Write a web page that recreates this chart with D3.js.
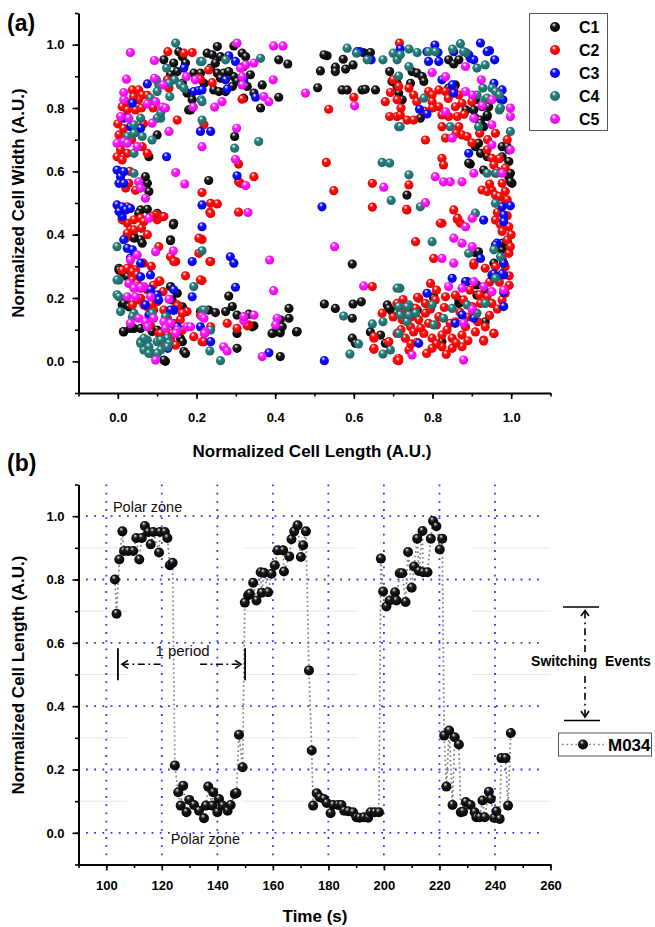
<!DOCTYPE html>
<html>
<head>
<meta charset="utf-8">
<script src="https://cdn.jsdelivr.net/npm/d3@7"></script>
<style>
  body { margin: 0; background: #fff; }
  svg { display: block; }
  text { font-family: "Liberation Sans", Arial, Helvetica, sans-serif; }
</style>
</head>
<body>
<svg id="chart" width="655" height="927"></svg>
<script>
// ---------- Panel (a): normalized cell length vs width, five cells ----------
const seriesNames = ["C1", "C2", "C3", "C4", "C5"];

const c1 = [[0.155,0.978],[0.117,0.952],[0.142,0.942],[0.151,0.915],[0.134,0.905],[0.18,0.794],[0.1,0.715],[0.079,0.646],[0.075,0.562],[0.079,0.536],[0.07,0.583],[0.058,0.478],[0.075,0.48],[0.053,0.467],[0.113,0.457],[0.142,0.436],[0.041,0.394],[0.058,0.384],[0.062,0.373],[0.134,0.384],[0.003,0.294],[0.015,0.278],[0.024,0.267],[0.134,0.236],[0.151,0.215],[0.138,0.194],[0.015,0.183],[0.011,0.178],[0.028,0.178],[0.015,0.093],[0.041,0.104],[0.1,0.099],[0.147,0.109],[0.159,0.073],[0.168,0.031],[0.121,0.0],[0.117,0.004],
  [0.227,0.973],[0.24,0.968],[0.253,0.994],[0.261,0.962],[0.248,0.942],[0.236,0.926],[0.253,0.91],[0.269,0.91],[0.261,0.894],[0.244,0.857],[0.257,0.852],[0.274,0.852],[0.291,0.868],[0.295,0.899],[0.282,0.915],[0.303,0.884],[0.316,0.973],[0.325,0.962],[0.32,0.931],[0.337,0.905],[0.329,0.868],[0.346,0.847],[0.367,0.873],[0.363,0.8],[0.409,0.952],[0.432,0.939],[0.409,0.834],[0.32,0.831],[0.295,0.996],[0.297,0.71],[0.231,0.571],[0.282,0.206],
  [0.231,0.162],[0.248,0.154],[0.274,0.157],[0.291,0.173],[0.303,0.146],[0.333,0.149],[0.346,0.112],[0.303,0.088],[0.413,0.131],[0.435,0.167],[0.435,0.136],[0.396,0.09],[0.413,0.09],[0.454,0.093],[0.303,0.041],[0.413,0.015],
  [0.532,0.965],[0.515,0.917],[0.553,0.929],[0.553,0.915],[0.573,0.954],[0.579,0.923],[0.598,0.936],[0.624,0.975],[0.642,0.975],[0.508,0.864],[0.57,0.857],[0.583,0.857],[0.621,0.857],[0.629,0.859],[0.655,0.857],[0.691,0.915],[0.697,0.884],[0.71,0.868],[0.596,0.307],[0.525,0.181],[0.553,0.167],[0.598,0.181],[0.619,0.188],[0.596,0.136],[0.596,0.073],[0.604,0.057],[0.642,0.093],[0.668,0.083],[0.685,0.178],[0.697,0.157],
  [0.748,0.915],[0.761,0.91],[0.774,0.899],[0.778,0.884],[0.71,0.878],[0.744,0.878],[0.841,0.952],[0.854,0.939],[0.867,0.952],[0.841,0.863],[0.858,0.873],[0.909,0.768],[0.922,0.762],[0.93,0.741],[0.905,0.794],[0.939,0.773],[0.885,0.794],[0.909,0.826],[0.926,0.804],[0.943,0.804],[0.769,0.768],[0.714,0.847],[0.723,0.826],[0.909,0.678],[0.922,0.657],[0.939,0.646],[0.977,0.678],[0.977,0.646],[0.994,0.668],[0.994,0.631],[0.994,0.583],[1.002,0.562],[0.896,0.623],[0.93,0.604],[0.735,0.525],[0.752,0.167],[0.803,0.204],[0.867,0.183],[0.913,0.209],[0.934,0.22],[0.824,0.062],[0.917,0.689],[0.909,0.343],[0.977,0.352],
  [0.689,0.167],[0.71,0.181],[0.761,0.162],[0.803,0.199],[0.867,0.194],[0.888,0.252],[0.913,0.241],[0.934,0.125],[0.956,0.31],[0.977,0.373],[0.99,0.378],[0.917,0.346],[0.68,0.057],[0.708,0.152],[0.731,0.136],
  [0.998,0.594],[0.998,0.567],[0.99,0.678],[0.939,0.778],[0.922,0.752],[0.892,0.626],[0.524,0.968],
  [0.1,0.467],[0.141,0.431],[0.134,0.381],[0.041,0.389],[0.003,0.288],[0.015,0.183],[0.028,0.172],[0.014,0.094],[0.032,0.104],[0.058,0.104],[0.087,0.094],[0.164,0.062],[0.172,0.025],[0.164,0.172],[0.142,0.162],[0.21,0.157],[0.342,0.109],[0.392,0.088],[0.418,0.109],[0.456,0.094],
  [0.164,0.962],[0.172,0.942],[0.193,0.91],[0.164,0.878],[0.176,0.847],[0.189,0.826],[0.185,0.794],[0.21,0.91],[0.219,0.878]];

const c2 = [[0.127,0.978],[0.168,0.973],[0.189,0.975],[0.126,0.889],[0.13,0.863],[0.206,0.894],[0.037,0.857],[0.053,0.857],[0.062,0.841],[0.011,0.804],[0.024,0.794],[0.045,0.794],[0.053,0.826],[0.151,0.762],[0.003,0.715],[0.007,0.668],[0.024,0.657],[0.062,0.678],[0.075,0.657],[-0.002,0.646],[0.011,0.636],[0.02,0.547],[0.028,0.562],[0.024,0.436],[0.041,0.447],[0.032,0.415],[0.02,0.389],[0.058,0.452],[0.066,0.441],[0.1,0.462],[0.1,0.447],[0.104,0.362],[0.134,0.33],[0.147,0.315],[0.032,0.294],[0.037,0.267],[0.045,0.289],[0.104,0.252],[0.058,0.231],[0.075,0.226],[0.037,0.178],[0.053,0.194],[0.066,0.178],[0.1,0.188],[0.151,0.178],[0.176,0.157],[0.159,0.131],[0.083,0.115],[0.104,0.088],[0.134,0.067],[0.121,0.051],
  [0.231,0.92],[0.24,0.88],[0.316,0.828],[0.219,0.747],[0.307,0.623],[0.346,0.583],[0.312,0.562],[0.214,0.533],[0.253,0.497],[0.234,0.471],[0.307,0.471],[0.214,0.385],[0.234,0.315],[0.214,0.255],[0.278,0.12],[0.303,0.104],[0.333,0.115],[0.214,0.062],
  [0.6,0.834],[0.536,0.796],[0.693,0.849],[0.691,0.773],[0.71,0.773],[0.7,0.889],[0.53,0.628],[0.647,0.562],[0.549,0.539],[0.647,0.487],[0.647,0.236],[0.672,0.152],[0.651,0.073],[0.651,0.038],[0.689,0.062],[0.71,0.004],
  [0.716,1.005],[0.714,0.868],[0.71,0.826],[0.74,0.863],[0.752,0.841],[0.79,0.852],[0.799,0.841],[0.816,0.857],[0.833,0.852],[0.854,0.857],[0.867,0.841],[0.875,0.815],[0.799,0.82],[0.816,0.804],[0.858,0.804],[0.824,0.778],[0.841,0.773],[0.863,0.773],[0.824,0.741],[0.833,0.705],[0.867,0.741],[0.875,0.715],[0.888,0.71],[0.782,0.699],[0.718,0.778],[0.735,0.762],[0.752,0.762],[0.939,0.668],[0.951,0.641],[0.956,0.62],[0.96,0.594],[0.926,0.541],[0.939,0.536],[0.951,0.541],[0.96,0.525],[0.977,0.562],[0.985,0.536],[0.985,0.504],[0.74,0.557],[0.735,0.478],[0.854,0.478],[0.863,0.449],[0.871,0.436],[0.824,0.436],[0.96,0.446],[0.973,0.431],[0.994,0.425],[0.977,0.41],[0.99,0.383],[0.994,0.341],[0.977,0.325],[0.96,0.299],[0.934,0.294],[0.905,0.304],[0.824,0.641],[0.828,0.62],[0.757,0.378],[0.803,0.325],[0.795,0.246],[0.998,0.362],[0.985,0.299],
  [0.765,0.199],[0.782,0.183],[0.807,0.194],[0.833,0.204],[0.858,0.209],[0.879,0.194],[0.901,0.173],[0.922,0.183],[0.939,0.204],[0.951,0.183],[0.977,0.194],[0.985,0.215],[0.71,0.183],[0.731,0.162],[0.757,0.167],[0.782,0.152],[0.723,0.131],[0.744,0.109],[0.765,0.131],[0.79,0.12],[0.816,0.141],[0.837,0.099],[0.858,0.125],[0.884,0.109],[0.909,0.093],[0.934,0.109],[0.956,0.088],[0.93,0.067],[0.71,0.088],[0.731,0.073],[0.752,0.093],[0.778,0.088],[0.799,0.073],[0.824,0.083],[0.85,0.073],[0.875,0.083],[0.799,0.041],[0.824,0.046],[0.85,0.041],[0.875,0.046],[0.714,0.009],[0.74,0.036],
  [0.734,0.48],[0.864,0.452],[0.82,0.436],[0.905,0.31],[0.762,0.202],[0.956,0.088],[0.93,0.064],[0.714,0.002],[0.651,0.041],[0.651,0.078],
  [0.096,0.462],[0.117,0.457],[0.236,0.467],[0.206,0.389],[0.206,0.341],[0.236,0.315],[0.21,0.257],[0.172,0.27],[0.142,0.315],[0.107,0.254],
  [0.151,0.175],[0.164,0.152],[0.142,0.12],[0.164,0.099],[0.193,0.078],[0.219,0.062],[0.236,0.109],[0.329,0.112],[0.21,0.146],
  [0.058,0.199],[0.075,0.172],[0.091,0.162],[0.117,0.162],[0.126,0.136],[0.138,0.088],[0.109,0.088],[0.147,0.051],
  [0.011,0.447],[0.024,0.404],[0.041,0.415],[0.024,0.488],[0.087,0.457],[0.011,0.288],[0.024,0.294],[0.037,0.283],[0.049,0.273],[0.037,0.257],[0.049,0.246],
  [0.21,0.891],[0.236,0.499],[0.307,0.567],
  [0.72,0.1],[0.745,0.14],[0.77,0.105],[0.795,0.165],[0.81,0.115],[0.83,0.17],[0.845,0.12],[0.87,0.155],[0.89,0.14],[0.915,0.125],[0.945,0.145],[0.965,0.165],[0.92,0.21],[0.895,0.225],[0.76,0.06],[0.785,0.025],[0.81,0.055],[0.835,0.022],[0.86,0.058],[0.89,0.065],[0.745,0.055],[0.7,0.14],[0.725,0.195],[0.81,0.225],[0.945,0.25],[0.97,0.25],[0.995,0.27],[0.995,0.24],[0.99,0.46],[0.965,0.47],[1.0,0.4],[0.99,0.51],[0.97,0.52],[0.945,0.56],[0.965,0.6],[0.985,0.61],[0.97,0.64],[0.99,0.7],[0.96,0.72],[0.94,0.7],
  [0.0,0.75],[0.015,0.735],[0.035,0.7],[0.05,0.725],[0.065,0.75],[0.02,0.82],[0.04,0.835],[0.075,0.84],[0.09,0.8],[0.06,0.8],[0.005,0.6],[0.03,0.6],[0.045,0.54],[0.06,0.42],[0.075,0.4],[0.085,0.3],[0.065,0.31],[0.09,0.24],[0.115,0.22],[0.085,0.18],
  [0.68,0.82],[0.72,0.8],[0.76,0.82],[0.78,0.79],[0.8,0.8],[0.84,0.83],[0.88,0.78],[0.9,0.82],[0.86,0.72],[0.9,0.69],[0.92,0.72]];

const c3 = [[0.168,0.926],[0.075,0.876],[0.193,0.852],[0.206,0.855],[0.037,0.815],[0.015,0.768],[0.032,0.741],[0.058,0.736],[0.124,0.646],[-0.002,0.604],[0.007,0.583],[0.015,0.599],[0.003,0.562],[0.015,0.562],[-0.002,0.494],[0.011,0.488],[0.02,0.478],[0.032,0.483],[0.011,0.457],[0.003,0.473],[0.015,0.384],[0.024,0.357],[0.037,0.352],[0.032,0.326],[0.058,0.31],[0.083,0.273],[0.058,0.267],[0.083,0.226],[0.1,0.21],[0.189,0.204],[0.07,0.178],[0.104,0.194],[0.142,0.162],[0.127,0.041],
  [0.282,0.965],[0.299,0.947],[0.274,0.889],[0.278,0.86],[0.32,0.889],[0.35,0.834],[0.303,0.586],[0.214,0.494],[0.214,0.425],[0.286,0.33],[0.295,0.31],[0.299,0.234],[0.236,0.062],[0.384,0.027],[0.615,0.978],[0.644,0.952],[0.519,0.488],[0.525,0.002],
  [0.718,0.986],[0.806,0.999],[0.786,0.978],[0.814,0.975],[0.922,1.005],[0.945,0.981],[0.896,0.957],[0.905,0.952],[0.958,0.952],[0.824,0.889],[0.85,0.873],[0.977,0.857],[0.767,0.796],[0.786,0.781],[0.973,0.828],[0.786,0.215],[0.85,0.262],[0.884,0.252],[0.875,0.146],[0.905,0.136],[0.858,0.12],[0.951,0.273],[0.981,0.273],[0.981,0.173],[0.765,0.057],[0.892,0.657],[0.93,0.446],[0.977,0.488],[0.981,0.462],[0.964,0.373],[0.922,0.325],
  [0.189,0.315],[0.142,0.226],[0.21,0.109],[0.079,0.146],[0.134,0.162],[0.151,0.109],
  [0.21,0.726],[0.236,0.726],[0.214,0.857],
  [0.608,0.978],[0.79,0.947],[0.816,0.947],[0.854,0.978],[0.854,0.847],[0.892,0.968],[0.939,0.978],[0.956,0.878],[0.979,0.826],
  [0.998,0.491],[0.981,0.441],[0.96,0.367],[0.981,0.31],[0.956,0.276],[0.977,0.276],[0.981,0.217]];

const c4 = [[0.147,1.005],[0.124,0.926],[0.21,0.947],[0.104,0.873],[0.1,0.852],[0.144,0.889],[0.159,0.873],[0.212,0.826],[0.083,0.831],[0.109,0.768],[0.132,0.836],[0.024,0.71],[0.062,0.71],[0.041,0.72],[0.041,0.657],[0.041,0.594],[-0.002,0.362],[0.003,0.257],[0.193,0.236],[-0.002,0.21],[0.007,0.157],[0.041,0.152],[0.087,0.152],[0.121,0.141],[0.058,0.062],[0.075,0.067],[0.079,0.046],[0.1,0.062],[0.066,0.036],[0.087,0.025],[0.109,0.036],[0.126,0.073],[0.13,0.057],
  [0.274,0.952],[0.363,0.957],[0.214,0.947],[0.214,0.82],[0.214,0.762],[0.297,0.673],[0.358,0.694],[0.214,0.349],[0.234,0.033],[0.261,0.002],[0.214,0.162],[0.583,0.989],[0.607,0.973],[0.634,0.952],[0.674,0.952],[0.7,0.973],[0.714,0.741],[0.672,0.628],[0.691,0.626],[0.695,0.508],[0.717,0.231],[0.574,0.143],[0.612,0.055],[0.59,0.023],[0.647,0.118],[0.674,0.125],[0.674,0.023],
  [0.74,0.986],[0.761,0.975],[0.79,0.978],[0.71,0.952],[0.74,0.931],[0.851,0.986],[0.871,1.003],[0.885,0.975],[0.913,0.926],[0.934,0.936],[0.928,0.863],[0.951,0.863],[0.96,0.852],[0.97,0.841],[0.913,0.841],[0.778,0.831],[0.933,0.826],[0.97,0.794],[0.917,0.741],[0.998,0.726],[0.718,0.741],[0.714,0.173],[0.74,0.178],[0.757,0.152],[0.735,0.125],[0.714,0.088],[0.799,0.178],[0.828,0.136],[0.85,0.167],[0.888,0.178],[0.934,0.183],[0.96,0.262],[0.71,0.231],[0.803,0.115],[0.74,0.589],[0.769,0.488],[0.96,0.499],[0.909,0.468],[0.799,0.378],[0.892,0.341],[0.956,0.352],[0.939,0.594],[0.845,0.741],
  [-0.002,0.257],[0.003,0.204],[0.037,0.141],[0.058,0.057],[0.066,0.073],[0.079,0.025],[0.1,0.025],[0.109,0.067],[0.126,0.046],[0.219,0.162],[0.236,0.099],
  [0.098,0.889],[0.13,0.878],[0.168,0.863],[0.087,0.699],[0.1,0.768],[0.109,0.784],[0.058,0.768],[0.041,0.747],
  [0.718,0.968],[0.807,0.978],[0.879,0.978],[0.939,0.831],[0.973,0.8],[0.714,0.901],[0.962,0.594],
  [0.973,0.33],[0.735,0.172],[0.718,0.146],[0.74,0.146],[0.913,0.152],[0.693,0.036]];

const c5 = [[0.032,0.975],[0.093,0.95],[0.022,0.891],[0.093,0.894],[0.174,0.899],[0.197,0.889],[0.192,0.803],[0.015,0.849],[0.075,0.813],[0.096,0.82],[0.113,0.803],[0.121,0.8],[0.13,0.726],[0.028,0.768],[0.087,0.752],[-0.002,0.689],[0.015,0.694],[0.049,0.678],[0.053,0.567],[0.058,0.547],[0.07,0.515],[0.147,0.596],[0.17,0.56],[0.079,0.452],[0.096,0.346],[0.141,0.349],[0.049,0.336],[0.028,0.246],[0.045,0.236],[0.066,0.236],[0.045,0.204],[0.083,0.204],[0.13,0.196],[0.053,0.136],[0.07,0.125],[0.091,0.136],[0.117,0.125],[0.134,0.12],[0.151,0.099],[0.176,0.109],[0.032,0.12],[0.096,0.004],
  [0.303,1.005],[0.396,0.996],[0.42,0.996],[0.325,0.936],[0.346,0.942],[0.312,0.926],[0.316,0.873],[0.371,0.836],[0.384,0.82],[0.395,0.889],[0.246,0.803],[0.265,0.82],[0.477,0.847],[0.302,0.736],[0.214,0.678],[0.299,0.638],[0.325,0.555],[0.331,0.47],[0.386,0.32],[0.396,0.223],[0.346,0.146],[0.32,0.128],[0.405,0.136],[0.401,0.115],[0.214,0.141],[0.223,0.093],[0.269,0.046],[0.278,0.033],[0.367,0.015],[0.602,0.807],[0.676,0.55],[0.551,0.362],[0.625,0.238],
  [0.841,0.236],[0.875,0.231],[0.905,0.252],[0.93,0.236],[0.951,0.22],[0.981,0.225],[0.901,0.164],[0.879,0.12],[0.748,0.02],[0.879,0.004],[0.807,0.583],[0.845,0.567],[0.875,0.567],[0.905,0.594],[0.854,0.389],[0.875,0.373],[0.901,0.362],[0.901,0.452],[0.884,0.425],[0.824,0.325],[0.854,0.31],[0.951,0.684],[0.998,0.668],[0.977,0.594],[0.998,0.8],[0.998,0.773],[0.799,0.912],[0.833,0.899],[0.884,0.931],[0.924,0.889],[0.951,0.826],[0.884,0.852],[0.901,0.841],[0.905,0.768],[0.833,0.788],[0.85,0.705],[0.782,0.501],
  [0.041,0.231],[0.058,0.234],[0.024,0.204],[0.075,0.109],[0.121,0.104],[0.147,0.088],[0.185,0.109],[0.219,0.136],[0.22,0.088],[0.032,0.32],[0.32,0.141],
  [0.115,0.873],[0.316,0.899],[0.024,0.689],[0.007,0.773],[0.015,0.826],
  [0.926,0.807],[0.951,0.747],[0.828,0.567]];

const cellSeries = [c1, c2, c3, c4, c5];
const cellColors = [
  { base: "#1c1c1c", dark: "#000000", light: "#9a9a9a" },
  { base: "#ff1010", dark: "#e00000", light: "#ffb0b0" },
  { base: "#1010ff", dark: "#0000d8", light: "#a8a8ff" },
  { base: "#2b8080", dark: "#1c6464", light: "#a8d0d0" },
  { base: "#ff22ff", dark: "#e000e0", light: "#ffc0ff" }
];
const ticksA = [0.0, 0.2, 0.4, 0.6, 0.8, 1.0];

// ---------- Panel (b): cell length of M034 over time ----------
const timeS = [103.1,103.7,104.7,105.8,106.4,107.9,109.7,110.8,111.9,112.8,113.9,115.1,116.0,116.9,119.0,119.3,121.1,122.0,122.9,123.9,
  124.7,125.9,126.8,127.7,128.9,129.9,131.6,133.4,135.2,135.9,136.7,138.2,138.5,140.0,140.6,141.9,143.7,144.8,146.3,146.9,147.8,149.1,
  149.9,151.1,151.7,152.9,154.1,155.6,156.0,156.8,158.3,159.5,160.7,161.7,163.7,164.0,165.9,166.7,167.7,168.9,170.1,170.9,171.9,
  173.0,174.0,174.5,175.8,176.9,178.4,179.4,180.8,181.7,183.5,184.7,185.7,187.1,188.9,190.1,191.2,192.8,194.3,195.2,196.7,198.2,
  198.9,199.7,200.9,202.1,204.0,204.5,205.7,206.6,207.8,208.7,210.0,210.9,212.0,212.6,213.9,214.1,215.7,216.9,217.7,218.9,220.1,221.0,
  221.7,222.5,223.5,224.7,225.5,227.0,227.7,228.5,229.5,231.2,232.7,233.3,234.5,235.5,236.3,237.8,238.5,239.7,240.5,241.7,242.3,243.8,244.7,245.7];
const lengthM034 = [0.80,0.692,0.863,0.952,0.89,0.89,0.89,0.931,0.863,0.931,0.969,0.95,0.911,0.95,0.885,0.95,0.95,0.931,0.845,0.853,
  0.213,0.128,0.086,0.149,0.065,0.104,0.088,0.07,0.046,0.086,0.146,0.086,0.128,0.065,0.107,0.086,0.07,0.088,0.123,0.126,0.31,0.207,
  0.727,0.75,0.755,0.79,0.734,0.823,0.758,0.821,0.76,0.818,0.845,0.892,0.892,0.825,0.873,0.927,0.952,0.971,0.871,0.908,0.952,
  0.513,0.26,0.086,0.125,0.112,0.107,0.094,0.062,0.088,0.088,0.088,0.07,0.068,0.065,0.049,0.048,0.049,0.048,0.065,0.065,0.065,
  0.866,0.762,0.715,0.734,0.76,0.734,0.82,0.82,0.729,0.887,0.774,0.841,0.929,0.827,0.953,0.823,0.823,0.929,0.985,0.968,0.895,0.929,
  0.307,0.146,0.323,0.088,0.302,0.279,0.065,0.067,0.097,0.088,0.065,0.049,0.049,0.102,0.049,0.13,0.107,0.047,0.068,0.044,0.236,0.236,0.086,0.315];
const ticksBx = [100, 120, 140, 160, 180, 200, 220, 240, 260];
const ticksBy = [0.0, 0.2, 0.4, 0.6, 0.8, 1.0];
const gridBx = [100, 120, 140, 160, 180, 200, 220, 240];
const faintLevels = [0.1, 0.3, 0.5, 0.7, 0.9];
const faintSpans = [[90.5, 107.5], [149, 190.5], [231.5, 260]];

// ---------- drawing ----------
const svg = d3.select("#chart");
svg.append("rect").attr("width", 655).attr("height", 927).attr("fill", "#fff");
const defs = svg.append("defs");

function ballGradient(id, c) {
  const g = defs.append("radialGradient").attr("id", id)
    .attr("cx", "45%").attr("cy", "42%").attr("r", "62%")
    .attr("fx", "38%").attr("fy", "26%");
  g.append("stop").attr("offset", "0%").attr("stop-color", "#ffffff");
  g.append("stop").attr("offset", "14%").attr("stop-color", c.light);
  g.append("stop").attr("offset", "34%").attr("stop-color", c.base);
  g.append("stop").attr("offset", "100%").attr("stop-color", c.dark);
}
cellColors.forEach((c, i) => ballGradient("ball" + i, c));
ballGradient("ballM", { base: "#1a1a1a", dark: "#000", light: "#8a8a8a" });

function styleAxis(sel, fontSize) {
  sel.select(".domain").attr("stroke", "#000").attr("stroke-width", 2);
  sel.selectAll(".tick line").attr("stroke", "#000").attr("stroke-width", 1.6);
  sel.selectAll(".tick text").attr("fill", "#000")
    .attr("font-size", fontSize).attr("font-weight", "bold")
    .attr("font-family", "'Liberation Sans', Arial, sans-serif");
}

function frame(g, x, y, xMajor, xMinor, yMajor, yMinor, xFmt, yFmt, xPad) {
  const h = y.range()[0];
  const l = x.range()[0];
  g.append("g").attr("transform", `translate(0,${h})`)
    .call(d3.axisBottom(x).tickValues(xMinor).tickSize(3.5).tickFormat(""))
    .call(s => { s.select(".domain").remove(); s.selectAll(".tick line").attr("stroke", "#000").attr("stroke-width", 1.6); });
  g.append("g").attr("transform", `translate(${l},0)`)
    .call(d3.axisLeft(y).tickValues(yMinor).tickSize(3.5).tickFormat(""))
    .call(s => { s.select(".domain").remove(); s.selectAll(".tick line").attr("stroke", "#000").attr("stroke-width", 1.6); });
  g.append("g").attr("transform", `translate(0,${h})`)
    .call(d3.axisBottom(x).tickValues(xMajor).tickSize(6).tickSizeOuter(0).tickPadding(xPad).tickFormat(xFmt))
    .call(s => styleAxis(s, 13));
  g.append("g").attr("transform", `translate(${l},0)`)
    .call(d3.axisLeft(y).tickValues(yMajor).tickSize(6).tickSizeOuter(0).tickPadding(8).tickFormat(yFmt))
    .call(s => styleAxis(s, 13));
}

const f1 = d3.format(".1f");

// Panel (a)
const xA = d3.scaleLinear().domain([-0.1, 1.1]).range([78.5, 550.5]);
const yA = d3.scaleLinear().domain([-0.1, 1.1]).range([393, 13]);
const gA = svg.append("g");
frame(gA, xA, yA, ticksA, d3.range(-1, 12).map(d => d / 10), ticksA, d3.range(-1, 12).map(d => d / 10), f1, f1, 14);

cellSeries.forEach((pts, i) => {
  gA.append("g").selectAll("circle").data(pts).join("circle")
    .attr("cx", d => xA(d[0])).attr("cy", d => yA(d[1]))
    .attr("r", 4.6).attr("fill", `url(#ball${i})`);
});

svg.append("text").attr("x", 7).attr("y", 31).attr("font-size", 23).attr("font-weight", "bold").text("(a)");
svg.append("text").attr("x", 312).attr("y", 457).attr("text-anchor", "middle")
  .attr("font-size", 17).attr("font-weight", "bold").text("Normalized Cell Length (A.U.)");
svg.append("text").attr("transform", "translate(24,203) rotate(-90)").attr("text-anchor", "middle")
  .attr("font-size", 17).attr("font-weight", "bold").text("Normalized Cell Width (A.U.)");

// legend (a)
const legA = svg.append("g");
legA.append("rect").attr("x", 529.5).attr("y", 13.5).attr("width", 78).attr("height", 117)
  .attr("fill", "#fff").attr("stroke", "#555").attr("stroke-width", 1);
seriesNames.forEach((name, i) => {
  const cy = 27 + i * 23;
  legA.append("circle").attr("cx", 555).attr("cy", cy).attr("r", 5).attr("fill", `url(#ball${i})`);
  legA.append("text").attr("x", 579).attr("y", cy + 6).attr("font-size", 16).attr("font-weight", "bold").text(name);
});

// Panel (b)
const xB = d3.scaleLinear().domain([90, 260]).range([78.5, 550.5]);
const yB = d3.scaleLinear().domain([-0.1, 1.1]).range([864.5, 484.5]);
const gB = svg.append("g");

// faint minor guides
faintLevels.forEach(v => {
  faintSpans.forEach(s => {
    gB.append("line").attr("x1", xB(s[0])).attr("x2", xB(s[1]))
      .attr("y1", yB(v)).attr("y2", yB(v))
      .attr("stroke", "#dcefdc").attr("stroke-width", 1);
  });
});
// dotted blue grid
gB.append("g").selectAll("line").data(gridBx).join("line")
  .attr("x1", d => xB(d)).attr("x2", d => xB(d))
  .attr("y1", yB(1.1)).attr("y2", yB(-0.08))
  .attr("stroke", "#3434ff").attr("stroke-width", 1.8).attr("stroke-dasharray", "1.8,6.4");
gB.append("g").selectAll("line").data(ticksBy).join("line")
  .attr("x1", xB(92.7)).attr("x2", xB(258))
  .attr("y1", d => yB(d)).attr("y2", d => yB(d))
  .attr("stroke", "#3434ff").attr("stroke-width", 1.8).attr("stroke-dasharray", "1.8,6.4");

frame(gB, xB, yB, ticksBx, d3.range(90, 261, 10), ticksBy, d3.range(-1, 12).map(d => d / 10), d3.format("d"), f1, 10);

const m034 = timeS.map((t, i) => [t, lengthM034[i]]);
gB.append("path").datum(m034)
  .attr("d", d3.line().x(d => xB(d[0])).y(d => yB(d[1])))
  .attr("fill", "none").attr("stroke", "#808080").attr("stroke-width", 1.7)
  .attr("stroke-dasharray", "1.7,2.8");
gB.append("g").selectAll("circle").data(m034).join("circle")
  .attr("cx", d => xB(d[0])).attr("cy", d => yB(d[1]))
  .attr("r", 5).attr("fill", "url(#ballM)");

svg.append("text").attr("x", 7).attr("y", 471).attr("font-size", 23).attr("font-weight", "bold").text("(b)");
svg.append("text").attr("x", 315).attr("y", 922).attr("text-anchor", "middle")
  .attr("font-size", 17).attr("font-weight", "bold").text("Time (s)");
svg.append("text").attr("transform", "translate(24,675) rotate(-90)").attr("text-anchor", "middle")
  .attr("font-size", 17).attr("font-weight", "bold").text("Normalized Cell Length (A.U.)");

// zone labels
svg.append("text").attr("x", xB(102.4)).attr("y", yB(1.012)).attr("font-size", 14.5).attr("fill", "#111").text("Polar zone");
svg.append("text").attr("x", xB(123.2)).attr("y", yB(-0.034)).attr("font-size", 14.5).attr("fill", "#111").text("Polar zone");

// one period marker
const periodStart = 104.2, periodEnd = 150.0;
const ann = svg.append("g").attr("stroke", "#000").attr("fill", "none");
const pyTop = yB(0.583), pyBot = yB(0.482), pyMid = yB(0.532);
ann.append("line").attr("x1", xB(periodStart)).attr("x2", xB(periodStart)).attr("y1", pyTop).attr("y2", pyBot).attr("stroke-width", 1.8);
ann.append("line").attr("x1", xB(periodEnd)).attr("x2", xB(periodEnd)).attr("y1", pyTop).attr("y2", pyBot).attr("stroke-width", 1.8);
ann.append("line").attr("x1", xB(periodStart) + 4).attr("x2", xB(periodStart) + 45).attr("y1", pyMid).attr("y2", pyMid)
  .attr("stroke-width", 1.5).attr("stroke-dasharray", "7,3.5,1.8,3.5");
ann.append("line").attr("x1", xB(periodEnd) - 45).attr("x2", xB(periodEnd) - 4).attr("y1", pyMid).attr("y2", pyMid)
  .attr("stroke-width", 1.5).attr("stroke-dasharray", "7,3.5,1.8,3.5");
ann.append("path").attr("d", `M${xB(periodStart) + 10},${pyMid - 4}L${xB(periodStart) + 4},${pyMid}L${xB(periodStart) + 10},${pyMid + 4}`).attr("stroke-width", 1.6);
ann.append("path").attr("d", `M${xB(periodEnd) - 10},${pyMid - 4}L${xB(periodEnd) - 4},${pyMid}L${xB(periodEnd) - 10},${pyMid + 4}`).attr("stroke-width", 1.6);
svg.append("text").attr("x", (xB(periodStart) + xB(periodEnd)) / 2 + 1).attr("y", pyMid - 8)
  .attr("text-anchor", "middle").attr("font-size", 15).attr("fill", "#111").text("1 period");

// switching events marker
const sw = svg.append("g").attr("stroke", "#000").attr("fill", "none");
sw.append("line").attr("x1", 563).attr("x2", 599).attr("y1", 607).attr("y2", 607).attr("stroke-width", 1.6);
sw.append("line").attr("x1", 564).attr("x2", 600).attr("y1", 720.5).attr("y2", 720.5).attr("stroke-width", 1.6);
sw.append("line").attr("x1", 585).attr("x2", 585).attr("y1", 652).attr("y2", 612).attr("stroke-width", 1.6).attr("stroke-dasharray", "7,4,1.8,4");
sw.append("path").attr("d", "M581,616L585,610.5L589,616").attr("stroke-width", 1.6);
sw.append("line").attr("x1", 585).attr("x2", 585).attr("y1", 676).attr("y2", 716).attr("stroke-width", 1.6).attr("stroke-dasharray", "7,4,1.8,4");
sw.append("path").attr("d", "M581,711L585,717L589,711").attr("stroke-width", 1.6);
svg.append("text").attr("x", 591).attr("y", 666).attr("text-anchor", "middle")
  .attr("font-size", 14).attr("font-weight", "bold").style("white-space", "pre").text("Switching  Events");

// legend (b)
const legB = svg.append("g");
legB.append("rect").attr("x", 558.5).attr("y", 733).attr("width", 93).attr("height", 23)
  .attr("fill", "#fff").attr("stroke", "#555").attr("stroke-width", 1);
legB.append("line").attr("x1", 562).attr("x2", 604).attr("y1", 744.5).attr("y2", 744.5)
  .attr("stroke", "#808080").attr("stroke-width", 1.7).attr("stroke-dasharray", "1.7,2.8");
legB.append("circle").attr("cx", 583).attr("cy", 744.5).attr("r", 5).attr("fill", "url(#ballM)");
legB.append("text").attr("x", 608).attr("y", 751).attr("font-size", 17).attr("font-weight", "bold").text("M034");
</script>
</body>
</html>
